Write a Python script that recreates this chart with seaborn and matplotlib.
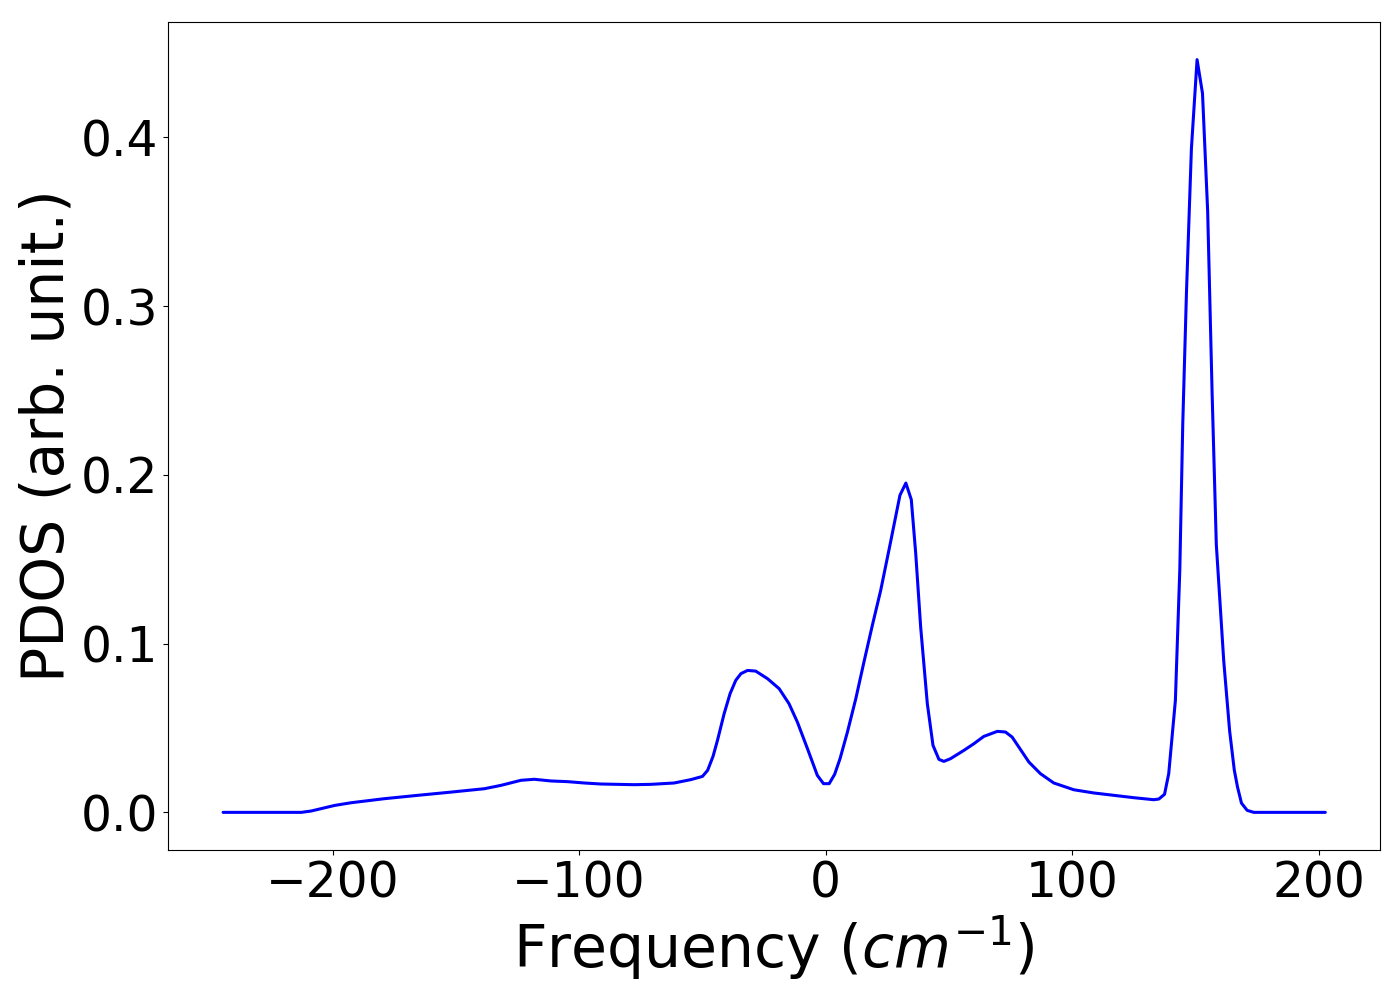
import numpy as np
import pandas as pd
import matplotlib
matplotlib.use("Agg")
import matplotlib.pyplot as plt
import seaborn as sns

sns.set_style("ticks", rc={"axes.edgecolor": "black", "xtick.color": "black", "ytick.color": "black",
                           "axes.labelcolor": "black", "text.color": "black"})
plt.rcParams['font.family'] = ['DejaVu Sans']

_fontsize_ticks = 35
_fontsize_label = 42

# frequency (cm^-1) and PDOS
freq = [-244.4, -212.7, -208.7, -199.2, -192.5, -179.0, -165.4, -152.0, -138.5, -131.7,
        -123.6, -118.2, -111.4, -104.7, -97.9, -91.2, -84.4, -77.7, -70.9, -61.5,
        -54.7, -50.0, -47.9, -45.7, -43.9, -41.2, -38.8, -36.5, -34.4, -31.7,
        -28.4, -23.6, -18.9, -14.9, -11.5, -7.4, -3.4, -0.9, 1.4, 3.6,
        5.8, 8.8, 12.2, 15.5, 18.9, 22.3, 26.3, 30.1, 32.5, 34.7,
        36.5, 38.5, 41.2, 43.5, 45.9, 47.9, 50.6, 56.0, 60.1, 64.1,
        69.6, 72.9, 75.6, 79.0, 82.4, 87.1, 92.5, 100.6, 108.7, 116.8,
        124.9, 133.0, 135.1, 137.4, 139.1, 141.8, 143.6, 144.8, 146.3, 148.3,
        150.6, 152.8, 154.9, 156.7, 158.4, 161.4, 163.8, 165.7, 167.0, 168.6,
        170.9, 173.6, 202.6]
pdos = [0.0, 0.0, 0.0008, 0.0041, 0.0057, 0.0081, 0.0101, 0.0120, 0.0140, 0.0160,
        0.0190, 0.0196, 0.0186, 0.0182, 0.0174, 0.0168, 0.0166, 0.0164, 0.0166, 0.0174,
        0.0194, 0.0213, 0.0249, 0.0332, 0.0427, 0.0585, 0.0703, 0.0782, 0.0822, 0.0841,
        0.0837, 0.0792, 0.0733, 0.0644, 0.0535, 0.0377, 0.0219, 0.0170, 0.0170, 0.0225,
        0.0318, 0.0476, 0.0674, 0.0891, 0.1108, 0.1316, 0.1602, 0.1879, 0.1951, 0.1853,
        0.1533, 0.1098, 0.0644, 0.0397, 0.0314, 0.0302, 0.0318, 0.0367, 0.0407, 0.0450,
        0.0480, 0.0476, 0.0446, 0.0372, 0.0298, 0.0229, 0.0174, 0.0134, 0.0115, 0.0101,
        0.0087, 0.0075, 0.0079, 0.0107, 0.0229, 0.0662, 0.1439, 0.2305, 0.3081, 0.3932,
        0.4460, 0.4260, 0.3560, 0.2484, 0.1588, 0.0900, 0.0483, 0.0250, 0.0150, 0.0055,
        0.0012, 0.0, 0.0]

dataSet = pd.DataFrame({"freq": freq, "pdos": pdos})

fig, ax = plt.subplots(figsize=(14, 10), dpi=100)
sns.lineplot(data=dataSet, x="freq", y="pdos", color="blue", linewidth=2.2,
             estimator=None, sort=False, ax=ax)

ax.set_xticks([-200, -100, 0, 100, 200])
ax.set_yticks([0.0, 0.1, 0.2, 0.3, 0.4])
ax.tick_params(labelsize=_fontsize_ticks)
ax.set_xlabel(r'Frequency ($cm^{-1}$)', fontsize=_fontsize_label)
ax.set_ylabel('PDOS (arb. unit.)', fontsize=_fontsize_label)

plt.subplots_adjust(left=0.12, right=0.986, top=0.978, bottom=0.15)
plt.savefig("out.png", dpi=100)
